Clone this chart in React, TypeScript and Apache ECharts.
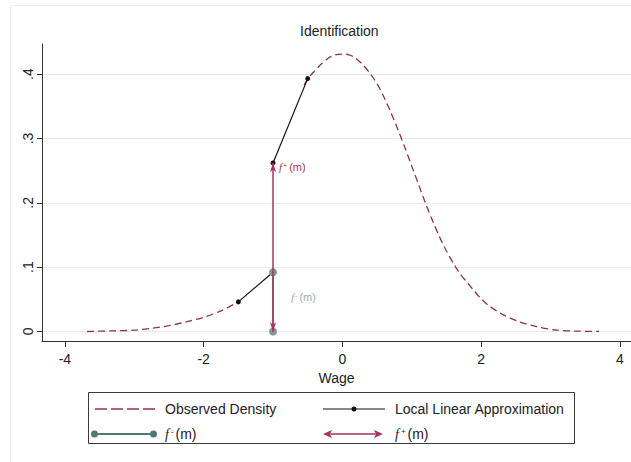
import { useEffect, useRef } from "react";
import * as echarts from "echarts";

// Observed density, drawn on both sides of the threshold m
const densityLeftX = [-3.68, -3.3, -3.0, -2.75, -2.5, -2.25, -2.0, -1.75, -1.5];
const densityLeftY = [0.0, 0.001, 0.002, 0.005, 0.009, 0.015, 0.022, 0.032, 0.046];
const densityRightX = [
  -0.55, -0.5, -0.4, -0.3, -0.2, -0.1, 0, 0.1, 0.2, 0.3, 0.4, 0.5, 0.6, 0.7, 0.8, 0.9, 1.0, 1.1,
  1.2, 1.3, 1.4, 1.5, 1.6, 1.7, 1.8, 1.9, 2.0, 2.1, 2.3, 2.55, 2.8, 3.1, 3.4, 3.7,
];
const densityRightY = [
  0.383, 0.393, 0.405, 0.416, 0.425, 0.43, 0.431, 0.43, 0.424, 0.414, 0.401, 0.385, 0.364, 0.34,
  0.314, 0.286, 0.257, 0.228, 0.199, 0.172, 0.147, 0.125, 0.106, 0.089, 0.076, 0.063, 0.051,
  0.041, 0.027, 0.015, 0.0075, 0.002, 0.0005, 0.0,
];

// Threshold and the two one-sided limits of the density there
const m = -1;
const fMinus = 0.092;
const fPlus = 0.262;

// Local linear approximations from each side
const approxLeftX = [-1.5, m];
const approxLeftY = [0.046, fMinus];
const approxRightX = [m, -0.5];
const approxRightY = [fPlus, 0.393];

// Where the f-(m) annotation sits
const fMinusNote = [-0.74, 0.053];

const xTicks = [-4, -2, 0, 2, 4];
const yTicks = [0, 0.1, 0.2, 0.3, 0.4];
const X_MIN = -4.33;
const X_MAX = 4.16;
const Y_MIN = -0.0148;
const Y_MAX = 0.4468;

const NAME_DENSITY = "Observed Density";
const NAME_APPROX = "Local Linear Approximation";
const NAME_FMINUS = "f⁻(m)";
const NAME_FPLUS = "f⁺(m)";

const FONT = '"Liberation Sans", Arial, sans-serif';
const C_DENSITY = "#8c3353";
const C_PLUS = "#a8325e";
const C_MINUS_LINE = "#4f7876";
const C_MINUS_DOT = "#869494";
const C_TEXT = "#222";

const zip = (xs: number[], ys: number[]) => xs.map((x, i) => [x, ys[i]]);

// Legend glyphs: filled paths spanning a fixed w x h box (corner specks pin the box)
const pin = (w: number, h: number) => `M0,0h0.01v0.01zM${w},${h}h-0.01v-0.01z`;
const circ = (cx: number, cy: number, r: number) =>
  `M${cx - r},${cy}a${r},${r} 0 1 0 ${2 * r},0a${r},${r} 0 1 0 ${-2 * r},0z`;

const dashedIcon = (w: number, h: number) => {
  const c = h / 2;
  let d = pin(w, h);
  [4, 20, 36, 52].forEach((x) => {
    d += `M${x},${c - 0.7}h12v1.4h-12z`;
  });
  return "path://" + d;
};
const dotLineIcon = (w: number, h: number) => {
  const c = h / 2;
  const mid = 32;
  return (
    "path://" +
    pin(w, h) +
    `M1,${c - 0.6}H${mid - 2.5}V${c + 0.6}H1z` +
    `M${mid + 2.5},${c - 0.6}H63V${c + 0.6}H${mid + 2.5}z` +
    circ(mid, c, 2.5)
  );
};
const endDotsIcon = (w: number, h: number) => {
  const c = h / 2;
  return (
    "path://" +
    pin(w, h) +
    circ(3.5, c, 3.5) +
    circ(62.5, c, 3.5) +
    `M7,${c - 0.9}H59V${c + 0.9}H7z`
  );
};
const doubleArrowIcon = (w: number, h: number) => {
  const c = h / 2;
  return (
    "path://" +
    pin(w, h) +
    `M1,${c}L10,${c - 4}L8,${c}L10,${c + 4}z` +
    `M61,${c}L52,${c - 4}L54,${c}L52,${c + 4}z` +
    `M8.5,${c - 0.75}H53.5V${c + 0.75}H8.5z`
  );
};

const ARROW = "path://M5,0L10,13L5,10L0,13Z";

const fLabel = (sign: string) => `{it|f}{sup|${sign}}(m)`;

export default function App() {
  const ref = useRef<HTMLDivElement>(null);

  useEffect(() => {
    if (!ref.current) return;
    const chart = echarts.init(ref.current, undefined, { renderer: "svg" });

    const richLegend = {
      it: { fontFamily: '"Liberation Serif", serif', fontStyle: "italic", fontSize: 14, color: C_TEXT },
      sup: { fontSize: 8, verticalAlign: "top", lineHeight: 8, padding: [0, 2, 0, 2], color: C_TEXT },
    };
    const legendFormatter = (name: string) =>
      name === NAME_FMINUS ? fLabel("-") : name === NAME_FPLUS ? fLabel("+") : name;
    const legendCommon = {
      orient: "vertical",
      top: 402,
      padding: 0,
      itemHeight: 14,
      itemGap: 11,
      selectedMode: false,
      formatter: legendFormatter,
      textStyle: { fontSize: 14, color: C_TEXT, fontFamily: FONT, rich: richLegend },
    };

    const axisText = { fontSize: 14, color: C_TEXT, fontFamily: FONT };
    const axisLine = { show: true, onZero: false, lineStyle: { color: "#333", width: 1 } };

    chart.setOption({
      animation: false,
      backgroundColor: "#ffffff",
      title: {
        text: "Identification",
        left: 300,
        top: 24,
        padding: 0,
        textStyle: { fontSize: 14, fontWeight: "normal", color: C_TEXT, fontFamily: FONT },
      },
      grid: { left: 42, right: 0, top: 44, bottom: 121, containLabel: false, outerBoundsMode: "none" },
      xAxis: {
        type: "value",
        min: X_MIN,
        max: X_MAX,
        name: "Wage",
        nameLocation: "middle",
        nameGap: 29,
        nameTextStyle: axisText,
        axisLine,
        axisTick: { show: true, length: 6, customValues: xTicks, lineStyle: { color: "#333" } },
        axisLabel: { customValues: xTicks, margin: 11, ...axisText, formatter: (v: number) => String(v) },
        splitLine: { show: false },
      },
      yAxis: {
        type: "value",
        min: Y_MIN,
        max: Y_MAX,
        axisLine,
        axisTick: { show: true, length: 5, customValues: yTicks, lineStyle: { color: "#333" } },
        axisLabel: {
          customValues: yTicks,
          rotate: 90,
          margin: 7,
          ...axisText,
          formatter: (v: number) => (v === 0 ? "0" : String(v).replace(/^0/, "")),
        },
        splitLine: { show: true, lineStyle: { color: "#e6ebee", width: 1 } },
      },
      legend: [
        {
          ...legendCommon,
          left: 91,
          itemWidth: 69,
          data: [
            { name: NAME_DENSITY, icon: dashedIcon(69, 14), itemStyle: { color: C_DENSITY, borderWidth: 0 } },
            { name: NAME_FMINUS, icon: endDotsIcon(69, 14), itemStyle: { color: C_MINUS_LINE, borderWidth: 0 } },
          ],
        },
        {
          ...legendCommon,
          left: 322,
          itemWidth: 68,
          data: [
            { name: NAME_APPROX, icon: dotLineIcon(68, 14), itemStyle: { color: "#111", borderWidth: 0 } },
            { name: NAME_FPLUS, icon: doubleArrowIcon(68, 14), itemStyle: { color: C_PLUS, borderWidth: 0 } },
          ],
        },
      ],
      graphic: [
        {
          type: "rect",
          silent: true,
          z: -10,
          shape: { x: 10.5, y: 5.5, width: 640, height: 480 },
          style: { fill: "none", stroke: "#eeeeee", lineWidth: 1 },
        },
        {
          type: "rect",
          silent: true,
          z: -1,
          shape: { x: 88.5, y: 392.5, width: 486, height: 51 },
          style: { fill: "none", stroke: "#3a3a3a", lineWidth: 1 },
        },
      ],
      series: [
        {
          name: NAME_DENSITY,
          type: "line",
          data: zip(densityLeftX, densityLeftY),
          smooth: 0.3,
          symbol: "none",
          lineStyle: { color: C_DENSITY, width: 1.3, type: [7, 4] },
          itemStyle: { color: C_DENSITY },
          z: 2,
        },
        {
          name: NAME_DENSITY,
          type: "line",
          data: zip(densityRightX, densityRightY),
          smooth: 0.3,
          symbol: "none",
          lineStyle: { color: C_DENSITY, width: 1.3, type: [7, 4] },
          itemStyle: { color: C_DENSITY },
          z: 2,
        },
        {
          name: NAME_APPROX,
          type: "line",
          data: zip(approxLeftX, approxLeftY),
          symbol: "circle",
          symbolSize: 5,
          lineStyle: { color: "#111", width: 1.2 },
          itemStyle: { color: "#111" },
          z: 3,
        },
        {
          name: NAME_APPROX,
          type: "line",
          data: zip(approxRightX, approxRightY),
          symbol: "circle",
          symbolSize: 5,
          lineStyle: { color: "#111", width: 1.2 },
          itemStyle: { color: "#111" },
          z: 3,
        },
        {
          name: NAME_FMINUS,
          type: "line",
          data: [
            [m, 0],
            [m, fMinus],
          ],
          symbol: "circle",
          symbolSize: 8,
          lineStyle: { color: C_MINUS_LINE, width: 1.5 },
          itemStyle: { color: C_MINUS_DOT },
          z: 4,
        },
        {
          name: NAME_FPLUS,
          type: "line",
          data: [
            { value: [m, 0], symbolRotate: 180, symbolOffset: [0, "-50%"] },
            {
              value: [m, fPlus],
              symbolRotate: 0,
              symbolOffset: [0, "50%"],
              label: {
                show: true,
                position: "right",
                distance: 3,
                formatter: fLabel("+"),
                color: C_PLUS,
                fontSize: 11,
                fontFamily: FONT,
                rich: {
                  it: { fontFamily: '"Liberation Serif", serif', fontStyle: "italic", fontSize: 11, color: C_PLUS },
                  sup: { fontSize: 7, verticalAlign: "top", lineHeight: 7, padding: [0, 2, 0, 1], color: C_PLUS },
                },
              },
            },
          ],
          symbol: ARROW,
          symbolSize: [6, 9],
          lineStyle: { color: C_PLUS, width: 1.5 },
          itemStyle: { color: C_PLUS },
          z: 5,
        },
        {
          name: "annotation",
          type: "scatter",
          data: [fMinusNote],
          symbolSize: 0,
          silent: true,
          label: {
            show: true,
            position: "right",
            distance: 0,
            formatter: fLabel("-"),
            color: C_MINUS_DOT,
            fontSize: 11,
            fontFamily: FONT,
            rich: {
              it: { fontFamily: '"Liberation Serif", serif', fontStyle: "italic", fontSize: 11, color: C_MINUS_DOT },
              sup: { fontSize: 7, verticalAlign: "top", lineHeight: 7, padding: [0, 2, 0, 1], color: C_MINUS_DOT },
            },
          },
          z: 6,
        },
      ],
    });

    return () => chart.dispose();
  }, []);

  return (
    <div
      ref={ref}
      style={{ position: "absolute", left: 0, top: 0, width: 631, height: 462, background: "#fff" }}
    />
  );
}
